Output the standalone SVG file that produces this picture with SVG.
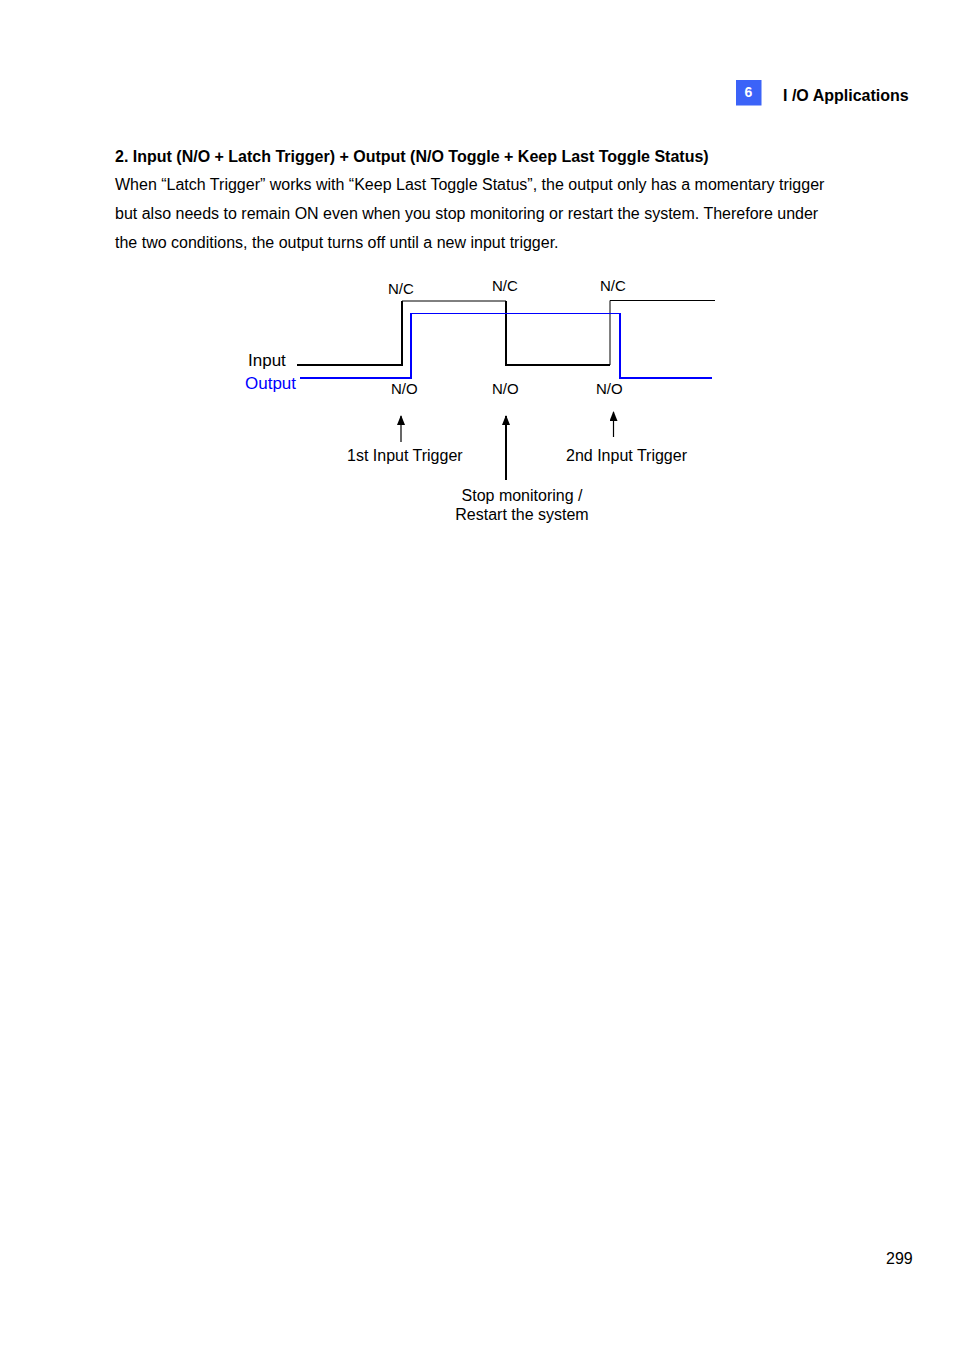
<svg xmlns="http://www.w3.org/2000/svg" width="954" height="1350" viewBox="0 0 954 1350">
<style>
text{font-family:"Liberation Sans",Arial,sans-serif;fill:#000}
.b{font-weight:bold}
.body{font-size:16px}
.lbl{font-size:15px}
.sig{fill:none;stroke-linejoin:miter;stroke-linecap:butt}
</style>
<defs>
<marker id="ah" markerWidth="10" markerHeight="8" refX="9" refY="4" orient="auto" markerUnits="userSpaceOnUse" viewBox="0 0 10 8">
<path d="M0,0 L10,4 L0,8 Z" fill="#000"/>
</marker>
</defs>
<rect width="954" height="1350" fill="#fff"/>
<g id="header">
<rect x="736" y="80" width="25.5" height="25.5" fill="#3b63f8"/>
<text x="748.5" y="97" text-anchor="middle" class="b" style="font-size:14px;fill:#fff">6</text>
<text x="783" y="101" class="b" style="font-size:16px">I /O Applications</text>
</g>
<g id="text">
<text x="115" y="162" class="b body">2. Input (N/O + Latch Trigger) + Output (N/O Toggle + Keep Last Toggle Status)</text>
<text x="115" y="190" class="body">When “Latch Trigger” works with “Keep Last Toggle Status”, the output only has a momentary trigger</text>
<text x="115" y="219" class="body">but also needs to remain ON even when you stop monitoring or restart the system. Therefore under</text>
<text x="115" y="248" class="body">the two conditions, the output turns off until a new input trigger.</text>
</g>
<g id="input-signal">
<text x="248" y="366" style="font-size:17px">Input</text>
<path class="sig" d="M297,365 H402 V301" stroke="#000" stroke-width="2"/>
<path class="sig" d="M402,301 H506" stroke="#000" stroke-width="1"/>
<path class="sig" d="M506,301 V365 H610" stroke="#000" stroke-width="2"/>
<path class="sig" d="M610,365 V300.5 H715" stroke="#000" stroke-width="1"/>
</g>
<g id="output-signal">
<text x="245" y="389" style="font-size:17px;fill:#0000ff">Output</text>
<path class="sig" d="M300,378 H411 V313" stroke="#0000ff" stroke-width="2"/>
<path class="sig" d="M411,313.5 H620" stroke="#0000ff" stroke-width="1"/>
<path class="sig" d="M620,313 V378 H712" stroke="#0000ff" stroke-width="2"/>
</g>
<g id="state-labels">
<text x="388" y="294" class="lbl">N/C</text>
<text x="492" y="291" class="lbl">N/C</text>
<text x="600" y="291" class="lbl">N/C</text>
<text x="391" y="394" class="lbl">N/O</text>
<text x="492" y="394" class="lbl">N/O</text>
<text x="596" y="394" class="lbl">N/O</text>
</g>
<g id="connectors">
<line x1="401" y1="442" x2="401" y2="416" stroke="#000" stroke-width="1.2" marker-end="url(#ah)"/>
<line x1="506" y1="480" x2="506" y2="416" stroke="#000" stroke-width="2" marker-end="url(#ah)"/>
<line x1="613.5" y1="437" x2="613.5" y2="412" stroke="#000" stroke-width="1.2" marker-end="url(#ah)"/>
</g>
<g id="trigger-1"><text x="347" y="461" class="body">1st Input Trigger</text></g>
<g id="trigger-2"><text x="566" y="461" class="body">2nd Input Trigger</text></g>
<g id="stop"><text x="522" y="501" text-anchor="middle" class="body">Stop monitoring /</text>
<text x="522" y="520" text-anchor="middle" class="body">Restart the system</text></g>
<text x="886" y="1264" class="body">299</text>
</svg>
